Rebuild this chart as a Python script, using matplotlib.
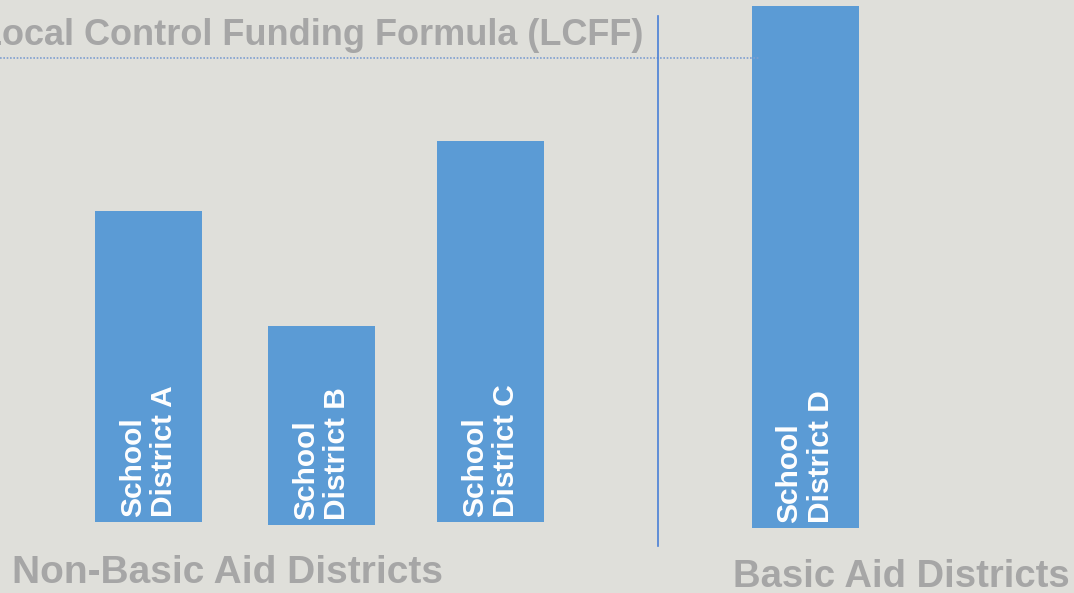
import matplotlib
matplotlib.use('Agg')
import matplotlib.pyplot as plt
from matplotlib.lines import Line2D

plt.rcParams['font.family'] = ['Liberation Sans', 'DejaVu Sans']

# data
districts = ['School\nDistrict A', 'School\nDistrict B', 'School\nDistrict C', 'School\nDistrict D']
funding = [311, 199, 381, 522]        # relative funding (bar heights)
base = [71, 68, 71, 65]               # bars don't sit on exactly the same baseline
slots = [0, 1.012, 2, 3.84]           # D sits apart, in the basic aid group
group_labels = ['Non-Basic Aid Districts', 'Basic Aid Districts']
title = 'Local Control Funding Formula (LCFF)'

BG = '#dfdfda'
BAR = '#5b9bd5'
GREY = '#a6a6a6'
W, H = 1074, 593

fig = plt.figure(figsize=(W / 100, H / 100), dpi=100, facecolor=BG)
ax = fig.add_axes([0, 0, 1, 1])
ax.set_facecolor(BG)
ax.axis('off')

unit = 171.0  # px per slot
ax.set_xlim(-148.5 / unit, (W - 148.5) / unit)
ax.set_ylim(0, H)

ax.bar(slots, funding, bottom=base, width=107 / unit, color=BAR, linewidth=0)

for x, b, name in zip(slots, base, districts):
    ax.text(x, b + 5, name, rotation=90, rotation_mode='anchor',
            ha='left', va='center', multialignment='left',
            color='white', fontsize=21.5, fontweight='bold', linespacing=1.15)

# title, cut off at left edge like the slide
fig.text(643 / W, (H - 45) / H, title, ha='right', va='baseline',
         color=GREY, fontsize=26, fontweight='bold')

# reference lines
fig.add_artist(Line2D([0, 760 / W], [(H - 57.5) / H] * 2, color='#7f9fd0',
                      lw=1.2, ls=(0, (1, 1)), zorder=5))
fig.add_artist(Line2D([658 / W] * 2, [(H - 16) / H, (H - 546) / H],
                      color='#4a7fd6', lw=1.2, zorder=5))

fig.text(12 / W, (H - 583) / H, group_labels[0], ha='left', va='baseline',
         color=GREY, fontsize=28, fontweight='bold')
fig.text(733 / W, (H - 587) / H, group_labels[1], ha='left', va='baseline',
         color=GREY, fontsize=27.5, fontweight='bold')

fig.savefig('out.png', dpi=100, facecolor=BG)
